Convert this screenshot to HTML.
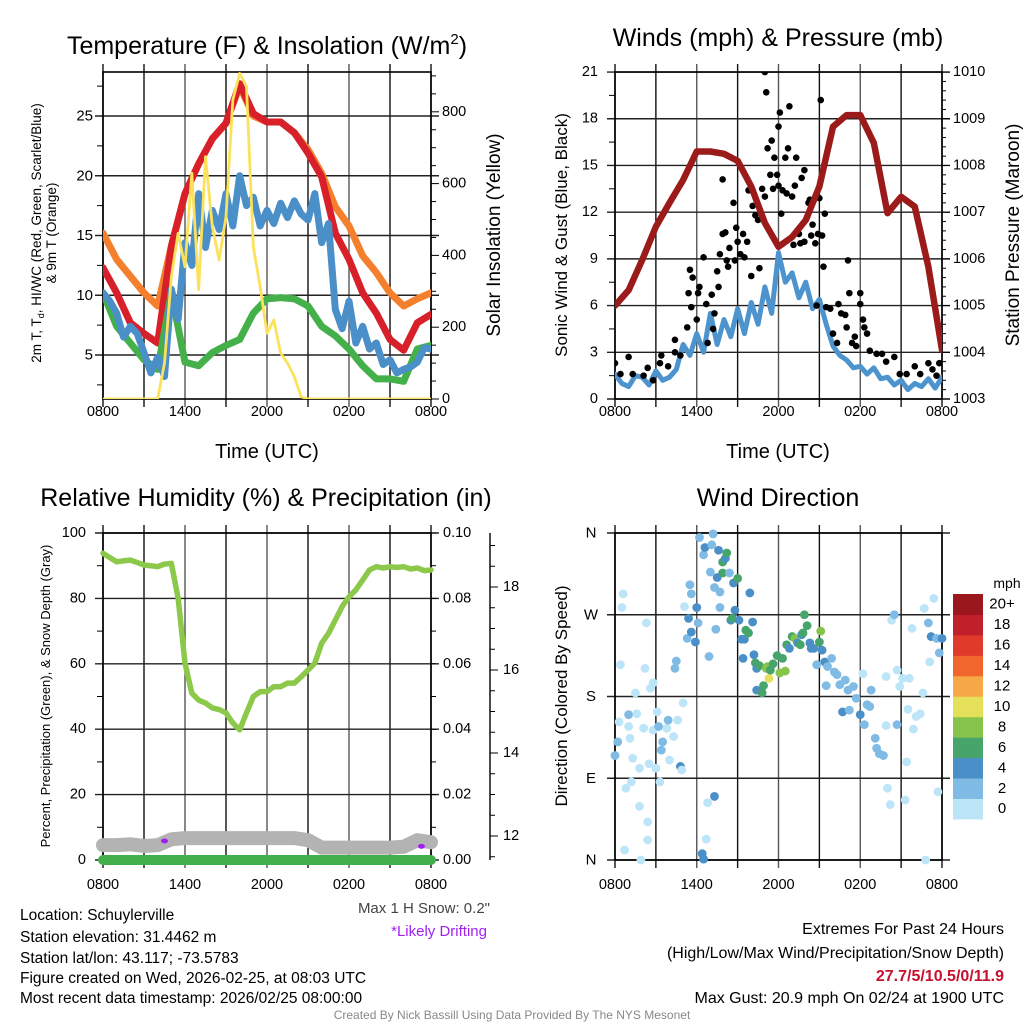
<!DOCTYPE html>
<html><head><meta charset="utf-8"><style>
body{margin:0;background:#fff;}
svg{display:block;font-family:"Liberation Sans",Arial,sans-serif;}
</style></head><body>
<svg id="s" width="1024" height="1024" viewBox="0 0 1024 1024" xmlns="http://www.w3.org/2000/svg">
<defs>
<clipPath id="c1"><rect x="103" y="68" width="328" height="331"/></clipPath>
<clipPath id="c2"><rect x="615" y="72" width="327" height="327"/></clipPath>
<clipPath id="c3"><rect x="93" y="533" width="348" height="340"/></clipPath>
<clipPath id="c4"><rect x="608" y="526" width="341" height="341"/></clipPath>
</defs>
<rect width="1024" height="1024" fill="#fff"/>
<g id="g1"></g>
<g id="g2"></g>
<g id="g3"></g>
<g id="g4"></g>
<text x="267" y="54" font-size="25" text-anchor="middle">Temperature (F) &amp; Insolation (W/m<tspan dy="-10" font-size="15">2</tspan><tspan dy="10">)</tspan></text>
<text x="778" y="46" font-size="25" text-anchor="middle">Winds (mph) &amp; Pressure (mb)</text>
<text x="266" y="506" font-size="25" text-anchor="middle">Relative Humidity (%) &amp; Precipitation (in)</text>
<text x="778" y="506" font-size="25" text-anchor="middle">Wind Direction</text>
<text x="267" y="458" font-size="20" text-anchor="middle">Time (UTC)</text>
<text x="778" y="458" font-size="20" text-anchor="middle">Time (UTC)</text>
<text font-size="13.5" text-anchor="middle" transform="translate(41,233) rotate(-90)">2m T, T<tspan font-size="9" dy="3">d</tspan><tspan dy="-3">, HI/WC (Red, Green, Scarlet/Blue)</tspan></text>
<text font-size="13.5" text-anchor="middle" transform="translate(56,233) rotate(-90)">&amp; 9m T (Orange)</text>
<text font-size="19" text-anchor="middle" transform="translate(500,235) rotate(-90)">Solar Insolation (Yellow)</text>
<text font-size="17" text-anchor="middle" transform="translate(567,235) rotate(-90)">Sonic Wind &amp; Gust (Blue, Black)</text>
<text font-size="19" text-anchor="middle" transform="translate(1019,235) rotate(-90)">Station Pressure (Maroon)</text>
<text font-size="13" text-anchor="middle" transform="translate(50,696) rotate(-90)">Percent, Precipitation (Green), &amp; Snow Depth (Gray)</text>
<text font-size="17" text-anchor="middle" transform="translate(567,696) rotate(-90)">Direction (Colored By Speed)</text>
<text x="490" y="913" font-size="15" fill="#444" text-anchor="end">Max 1 H Snow: 0.2"</text>
<text x="487" y="936" font-size="15" fill="#a020f0" text-anchor="end">*Likely Drifting</text>
<g font-size="15.5" fill="#000">
<text x="20" y="920">Location: Schuylerville</text>
<text x="20" y="942">Station elevation: 31.4462 m</text>
<text x="20" y="963">Station lat/lon: 43.117; -73.5783</text>
<text x="20" y="983">Figure created on Wed, 2026-02-25, at 08:03 UTC</text>
<text x="20" y="1003">Most recent data timestamp: 2026/02/25 08:00:00</text>
</g>
<g font-size="16" text-anchor="end">
<text x="1004" y="934">Extremes For Past 24 Hours</text>
<text x="1004" y="958">(High/Low/Max Wind/Precipitation/Snow Depth)</text>
<text x="1004" y="981" fill="#c8102e" font-weight="bold">27.7/5/10.5/0/11.9</text>
<text x="1004" y="1003">Max Gust: 20.9 mph On 02/24 at 1900 UTC</text>
</g>
<text x="512" y="1019" font-size="12" fill="#888" text-anchor="middle">Created By Nick Bassill Using Data Provided By The NYS Mesonet</text>
</svg>
<script>
const NS='http://www.w3.org/2000/svg';
const hourT=Array.from({length:25},(_,i)=>i);
const halfT=Array.from({length:49},(_,i)=>i/2);
const xTickHours=[0,6,12,18,24];
const xTickLabels=['0800','1400','2000','0200','0800'];
// Panel 1 data (hourly unless noted)
const tempRed=[12.3,10.2,7.7,6.8,6.0,14.1,18.5,21,23.1,24.4,27.7,25.2,24.5,24.5,23.6,21.9,19.9,15.2,13,10.2,8.5,6.3,5.4,7.7,8.4];
const temp9m=[15.2,13,11.6,10.2,9.1,14.1,18.5,21,23.1,24.4,27.5,25,24.5,24.5,23.6,22.2,20.2,17.4,15.8,13.3,11.9,10.2,9.1,9.7,10.2];
const dewGreen=[10.2,7.4,6,4.6,3.8,10.2,4.4,4.1,5.2,5.8,6.3,8.5,9.7,9.8,9.7,9.1,7.4,6.6,5.5,4.1,3,3,2.8,5.5,5.8];
const hiwcBlue=[10.2,9.5,8.5,6.5,7.4,6.8,5.2,3.5,4.8,3.2,10.5,8.0,14.4,12.5,18.5,14,17.1,15.5,18.5,15.8,20,17.5,18.2,15.8,17.1,16,17.7,16.5,17.9,16.8,16.3,18.5,14.4,16,8.8,7.2,9.5,6.0,7.4,5.5,6.0,4.2,4.6,3.5,3.8,4.0,4.4,5.6,5.5];
const solar=[0,0,0,0,0,0,0,0,0,100,340,462,368,629,304,675,480,387,508,833,907,870,424,313,183,220,128,100,62,6,0,0,0,0,0,0,0,0,0,0,0,0,0,0,0,0,0,0,0];
const p1LeftTicks=[5,10,15,20,25];
const p1RightTicks=[0,200,400,600,800];
// Panel 2 data
const windSpeed=[1.6,1.0,0.8,1.5,1.4,0.9,1.8,1.2,1.4,1.9,3.5,2.8,4.2,3.0,5.5,3.5,5.1,4.0,5.8,4.2,6.2,4.8,7.2,5.5,9.4,7.5,8.1,6.5,7.5,5.8,6.4,4.8,3.4,2.8,2.5,2.0,2.1,1.6,2.0,1.3,1.4,0.9,1.2,0.6,1.0,0.8,1.3,0.7,1.4];
const pressure=[1005.0,1005.33,1005.98,1006.69,1007.2,1007.69,1008.3,1008.3,1008.25,1008.1,1007.55,1006.77,1006.26,1006.47,1006.83,1007.55,1008.83,1009.08,1009.08,1008.48,1006.98,1007.33,1007.12,1005.83,1004.05];
const gustT=[0,0.4,1.0,1.3,2.1,2.4,2.8,3.4,3.3,3.9,4.4,4.4,4.8,5.3,5.4,5.5,5.6,5.7,6.0,6.1,6.2,6.5,6.7,6.8,7.1,7.2,7.3,7.5,7.6,7.7,7.9,7.9,8.1,8.2,8.3,8.4,8.7,8.8,8.9,9.0,9.2,9.4,9.5,9.7,9.8,10.0,10.1,10.3,10.5,10.6,10.8,11.0,11.0,11.1,11.2,11.4,11.5,11.6,11.7,11.9,12.0,12.0,12.1,12.2,12.3,12.5,12.6,12.7,12.8,13.0,13.1,13.2,13.3,13.5,13.6,13.7,13.9,13.9,14.1,14.2,14.3,14.4,14.5,14.7,14.8,14.9,15.0,15.1,15.2,15.3,15.4,15.5,15.8,16.0,16.3,16.4,16.6,16.9,17.0,17.1,17.2,17.4,17.6,17.7,18.0,18.0,18.2,18.3,18.5,18.7,19.2,19.6,19.9,20.5,20.9,21.4,22.0,22.4,23.0,23.3,23.6,23.8];
const gustV=[2.3,1.6,2.7,1.6,1.5,2.0,1.2,2.8,2.3,2.1,3.8,3.0,2.8,4.6,6.8,8.3,5.9,7.8,5.1,6.8,7.2,9.1,6.1,3.6,6.7,4.5,5.5,8.2,7.2,9.3,14.1,10.6,10.7,8.9,8.5,9.7,12.6,8.9,11.0,10.1,9.3,10.6,9.1,10.1,13.4,7.9,12.4,11.8,11.5,8.4,13.5,13.0,21.0,19.7,16.1,14.4,16.6,13.5,15.5,14.4,13.7,17.5,18.4,11.9,13.4,15.5,13.2,16.1,18.8,13.0,9.9,13.7,15.5,10.6,10.0,14.2,10.1,14.7,11.7,12.6,12.8,10.5,11.2,10.0,6.0,10.6,12.9,19.2,10.5,8.5,11.9,5.9,5.8,4.2,3.6,6.1,5.5,5.4,4.6,8.9,6.8,3.6,4.0,3.4,6.1,6.8,5.1,4.6,4.2,3.1,2.9,2.9,2.4,2.7,1.6,1.6,2.1,1.6,2.3,1.9,1.5,2.3];
const p2LeftTicks=[0,3,6,9,12,15,18,21];
const p2RightTicks=[1003,1004,1005,1006,1007,1008,1009,1010];
// Panel 3 data
const rhPct=[93.8,92.5,91.2,91.5,91.7,91.0,90.2,90.0,89.7,90.5,90.7,80,60.2,51,48.9,48,46.5,46,45,41.9,39.8,45,50,51.5,51.5,53,53,54.1,54.1,56,58.1,60.2,66.3,69.3,73.4,77.5,80.5,82.6,85.6,88.7,89.7,89.3,89.7,89.5,89.7,89.0,89.3,88.5,88.7];
const precipIn=[0,0,0,0,0,0,0,0,0,0,0,0,0,0,0,0,0,0,0,0,0,0,0,0,0];
const snowDepth=[11.78,11.78,11.8,11.76,11.78,11.92,11.95,11.95,11.95,11.95,11.95,11.95,11.95,11.95,11.95,11.9,11.72,11.72,11.72,11.72,11.72,11.72,11.74,11.9,11.85];
const driftT=[4.5,23.3];
const driftSnow=[11.88,11.75];
const p3LeftTicks=[0,20,40,60,80,100];
const p3RightTicks=[0,0.02,0.04,0.06,0.08,0.10];
const snowTicks=[12,14,16,18];
// Panel 4 data
const dirT=[0.0,0.2,0.3,0.4,0.6,0.5,0.7,0.8,1.0,1.0,1.1,1.2,1.3,1.5,1.6,1.8,1.8,1.9,2.1,2.2,2.3,2.4,2.4,2.5,2.6,2.8,2.8,3.0,3.1,3.2,3.3,3.4,3.5,3.8,3.9,4.0,4.3,4.4,4.5,4.6,4.8,4.9,5.0,5.1,5.3,5.4,5.5,5.6,5.6,5.9,6.0,6.1,6.2,6.4,6.5,6.5,6.6,6.7,6.8,6.9,7.0,7.1,7.2,7.3,7.3,7.4,7.5,7.6,7.7,7.7,7.9,7.9,8.1,8.2,8.4,8.5,8.6,8.7,8.8,9.0,9.1,9.3,9.4,9.5,9.6,9.8,9.9,10.1,10.2,10.3,10.4,10.4,10.6,10.8,10.9,11.1,11.2,11.3,11.4,11.6,11.9,12.1,12.3,12.5,12.6,12.8,13.0,13.2,13.4,13.6,13.7,13.8,13.9,14.1,14.3,14.4,14.6,14.8,15.0,15.1,15.2,15.4,15.5,15.6,15.9,16.1,16.3,16.5,16.7,16.9,17.1,17.2,17.5,17.7,18.0,18.2,18.3,18.5,18.7,18.8,19.1,19.2,19.4,19.7,19.9,19.9,20.0,20.2,20.3,20.5,20.7,20.7,20.9,21.1,21.3,21.4,21.5,21.6,21.8,21.9,22.1,22.4,22.6,22.7,22.8,23.0,23.1,23.2,23.4,23.6,23.7,23.8,24.0];
const dirDeg=[115,130,152,215,293,278,11,79,147,160,134,86,112,184,161,101,59,0,145,211,261,42,22,106,189,195,143,101,163,147,86,121,130,145,154,110,136,211,219,154,103,99,173,279,244,266,303,293,251,240,278,261,355,7,1,336,344,23,63,224,317,347,359,300,70,254,311,341,295,278,328,316,332,338,316,264,266,305,275,310,264,243,222,243,253,250,294,262,226,217,211,187,214,184,192,211,213,200,209,216,225,206,222,208,237,233,246,244,239,237,248,250,270,258,239,233,233,215,240,252,231,218,192,213,222,207,204,193,163,198,187,165,191,178,160,205,149,171,169,187,134,123,117,115,202,148,79,61,264,270,209,149,191,200,66,108,166,200,255,144,158,161,184,277,0,261,218,246,288,244,75,228,244];
const dirSpd=[3,3,1,1,1,1,1,1,1,3,1,1,1,1,1,1,1,1,1,1,1,1,1,1,1,1,1,1,1,3,1,3,3,1,3,1,1,3,3,1,5,1,1,1,3,5,3,3,5,5,5,3,3,5,5,3,5,1,1,3,3,3,3,3,5,3,5,5,3,3,7,7,5,7,3,5,7,5,5,7,5,5,5,5,7,7,5,5,5,7,5,5,7,7,7,9,9,11,7,7,7,9,7,9,7,5,7,9,5,7,5,7,7,7,5,5,5,3,7,9,5,5,3,3,3,3,3,3,5,3,3,3,3,3,5,1,3,3,3,3,3,3,3,3,1,1,1,1,1,3,1,3,1,1,1,1,1,1,1,1,1,1,1,1,1,3,1,5,1,3,1,3,5];
const dirTickDeg=[0,90,180,270,360];
const dirTickLabels=['N','E','S','W','N'];
const speedBinLabels=['0','2','4','6','8','10','12','14','16','18','20+'];
const binColors=['#bde5f8','#7fbbe5','#4a8fc7','#47a56c','#86c44b','#e5e05a','#f6a847','#f0662d','#e03a2b','#c0202a','#9a171d'];

function el(parent,tag,attrs){const e=document.createElementNS(NS,tag);for(const k in attrs)e.setAttribute(k,attrs[k]);parent.appendChild(e);return e;}
function txt(parent,x,y,s,anchor,size,fill){const t=el(parent,'text',{x:x,y:y,'text-anchor':anchor,'font-size':size||14,fill:fill||'#000','dominant-baseline':'central'});t.textContent=s;return t;}
function poly(parent,xs,ys,xf,yf,stroke,w,clip){const p=el(parent,'polyline',{points:xs.map((v,i)=>xf(v)+','+yf(ys[i])).join(' '),fill:'none',stroke:stroke,'stroke-width':w,'stroke-linejoin':'round','stroke-linecap':'round','clip-path':'url(#'+clip+')'});return p;}

function frame(g,x0,x1,y0,y1,xf,hGrid,yf,labY){
  for(let h=0;h<=24;h+=3){const x=xf(h);const l=el(g,'line',{x1:x,x2:x,y1:y0-8,y2:y1+8,stroke:(h%6===0&&h>0&&h<24)?'#555':'#111','stroke-width':1.4});
    
    }
  hGrid.forEach(v=>{const y=yf(v);const l=el(g,'line',{x1:x0-8,x2:x1+8,y1:y,y2:y,stroke:'#222','stroke-width':1.4});
    
    });
  const r=el(g,'rect',{x:x0,y:y0,width:x1-x0,height:y1-y0,fill:'none',stroke:'#000','stroke-width':1.6});
  
  
  xTickHours.forEach((h,i)=>{const t=txt(g,xf(h),labY,xTickLabels[i],'middle',14.5);
    
    });
}

// ---- Panel 1
const g1=document.getElementById('g1');
const x1f=t=>103+t*328/24, yT=v=>116+(25-v)*11.95, yS=w=>399-w*0.359;
frame(g1,103,431,72,399,x1f,p1LeftTicks,yT,412);
p1LeftTicks.forEach(v=>{const t=txt(g1,93,yT(v),String(v),'end',15);
  
  });
for(let v=2.5;v<=28;v+=5){el(g1,'line',{x1:97,x2:103,y1:yT(v),y2:yT(v),stroke:'#000'});}
p1RightTicks.forEach(v=>{const t=txt(g1,442,yS(v),String(v),'start',14.5);
  
  });
for(let w=0;w<=900;w+=50){el(g1,'line',{x1:431,x2:w%200===0?439:436,y1:yS(w),y2:yS(w),stroke:'#000'});}
let p;
p=poly(g1,hourT,temp9m,x1f,yT,'#f47f2d',7,'c1');


p=poly(g1,hourT,tempRed,x1f,yT,'#d7202a',7,'c1');


p=poly(g1,hourT,dewGreen,x1f,yT,'#44b04a',7,'c1');


p=poly(g1,halfT,hiwcBlue,x1f,yT,'#4b8fc8',7,'c1');


p=poly(g1,halfT,solar,x1f,yS,'#fbe25a',2.8,'c1');



// ---- Panel 2
const g2=document.getElementById('g2');
const x2f=t=>615+t*327/24, yW=v=>399-v*15.57, yP=v=>399-(v-1003)*46.7;
frame(g2,615,942,72,399,x2f,p2LeftTicks,yW,412);
p2LeftTicks.forEach(v=>{const t=txt(g2,598,yW(v),String(v),'end',14.5);
  
  });
for(let v=1.5;v<21;v+=3){el(g2,'line',{x1:609,x2:615,y1:yW(v),y2:yW(v),stroke:'#000'});}
p2RightTicks.forEach(v=>{const t=txt(g2,953,yP(v),String(v),'start',14.5);
  
  });
for(let v=1003;v<=1010.001;v+=0.2){el(g2,'line',{x1:942,x2:Math.abs(v-Math.round(v))<0.01?950:946,y1:yP(v),y2:yP(v),stroke:'#000'});}
p=poly(g2,halfT,windSpeed,x2f,yW,'#4d94cf',5,'c2');


gustT.forEach((t,i)=>{const c=el(g2,'circle',{cx:x2f(t),cy:yW(gustV[i]),r:3.3,fill:'#000','clip-path':'url(#c2)'});
  
  });
p=poly(g2,hourT,pressure,x2f,yP,'#9b1a1a',6.5,'c2');



// ---- Panel 3
const g3=document.getElementById('g3');
const yRH=v=>860-v*3.27, yPr=v=>860-v*3270, ySn=v=>836+(12-v)*41.5;
frame(g3,103,431,533,860,x1f,p3LeftTicks,yRH,885);
p3LeftTicks.forEach(v=>{const t=txt(g3,86,yRH(v),String(v),'end',14.5);
  
  });
for(let v=10;v<100;v+=20){el(g3,'line',{x1:97,x2:103,y1:yRH(v),y2:yRH(v),stroke:'#000'});}
p3RightTicks.forEach(v=>{const t=txt(g3,443,yPr(v),v.toFixed(2),'start',14.5);
  
  });
for(let v=0.01;v<0.1;v+=0.01){el(g3,'line',{x1:431,x2:436,y1:yPr(v),y2:yPr(v),stroke:'#000'});}
el(g3,'line',{x1:490,x2:490,y1:533,y2:860,stroke:'#000','stroke-width':1.4});
for(let v=11.5;v<=19.3;v+=0.5){el(g3,'line',{x1:490,x2:Math.abs(v-Math.round(v))<0.01&&Math.round(v)%2===0?498:495,y1:ySn(v),y2:ySn(v),stroke:'#000'});}
snowTicks.forEach(v=>{const t=txt(g3,503,ySn(v),String(v),'start',14.5);
  
  });
p=poly(g3,hourT,snowDepth,x1f,ySn,'#b3b3b3',14,'c3');


p=poly(g3,hourT,precipIn,x1f,yPr,'#42b04a',10,'c3');


driftT.forEach((t,i)=>{const e=el(g3,'ellipse',{cx:x1f(t),cy:ySn(driftSnow[i]),rx:3.5,ry:2.5,fill:'#a020f0'});
  
  });
p=poly(g3,halfT,rhPct,x1f,yRH,'#8cc94b',5.5,'c3');



// ---- Panel 4
const g4=document.getElementById('g4');
const yD=d=>860-d*327/360;
frame(g4,615,942,533,860,x2f,dirTickDeg,yD,885);
dirTickDeg.forEach((d,i)=>{const t=txt(g4,591,yD(d),dirTickLabels[i],'middle',15);
  
  });
dirT.forEach((t,i)=>{const b=Math.min(10,Math.floor(dirSpd[i]/2));const c=el(g4,'circle',{cx:x2f(t),cy:yD(dirDeg[i]),r:4.4,fill:binColors[b],'clip-path':'url(#c4)'});
  
  });
const cbTop=594,cbH=20.45;
speedBinLabels.forEach((lab,i)=>{const k=10-i;const y=cbTop+k*cbH;
  const r=el(g4,'rect',{x:953,y:y,width:30,height:cbH+0.5,fill:binColors[i]});
  
  
  const t=txt(g4,1002,y+cbH/2,lab,'middle',15);
  
  });
const mph=txt(g4,1007,583,'mph','middle',14);


</script>
</body></html>
